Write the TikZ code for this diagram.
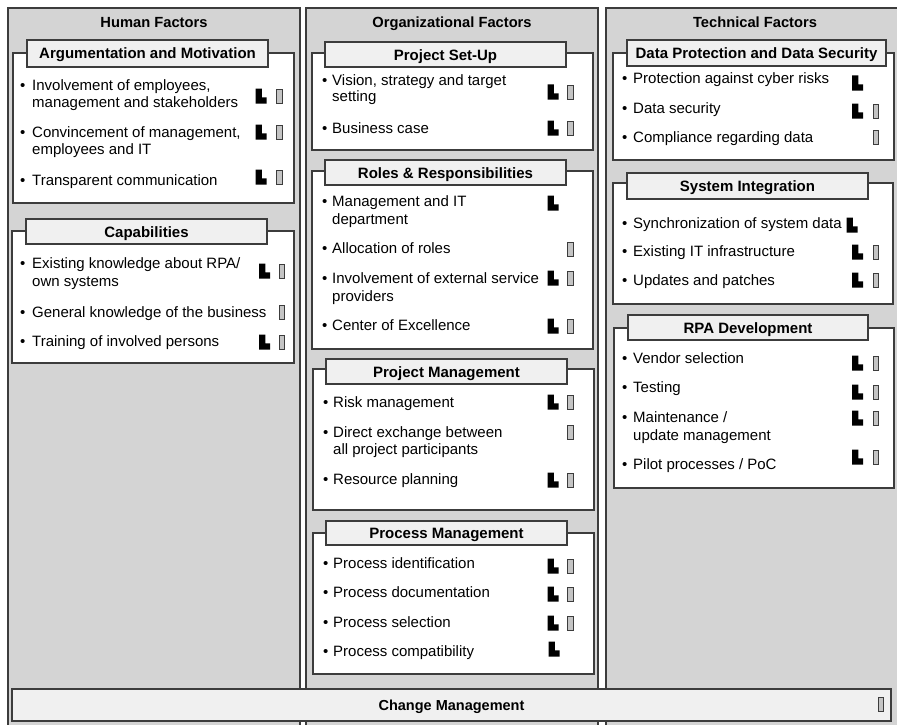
\documentclass[tikz,border=0pt]{standalone}
\usepackage{fontspec}
\setmainfont{Liberation Sans}
\definecolor{colfill}{HTML}{D4D4D4}
\definecolor{tabfill}{HTML}{F0F0F0}
\definecolor{edge}{HTML}{3C3C3C}
\definecolor{barfill}{HTML}{C4C4C4}
\tikzset{
 col/.style={fill=colfill, draw=edge, line width=1.4pt},
 sec/.style={fill=white, draw=edge, line width=1.1pt},
 tabst/.style={fill=tabfill, draw=edge, line width=1.1pt, inner sep=0pt, font=\fontsize{15}{18}\selectfont\bfseries, text height=11pt, text depth=0pt},
 hdr/.style={font=\fontsize{14.7}{18}\selectfont\bfseries, anchor=base, inner sep=0pt},
 txt/.style={font=\fontsize{15}{17}\selectfont, anchor=base west, inner sep=0pt},
 licon/.pic={\fill[black] (-5.5,-7.5) -- (0.8,-7.5) -- (0.8,1.3) -- (5.5,1.3) -- (5.5,7.5) -- (-5.5,7.5) -- cycle;},
 bicon/.pic={\draw[fill=barfill, draw=edge, line width=0.8pt] (-2.8,-7) rectangle (2.8,7);},
}
\begin{document}
\begin{tikzpicture}[x=1pt,y=-1pt]
\clip (0,0) rectangle (897,725);
\fill[white] (0,0) rectangle (897,725);
% columns
\draw[col] (8,8) rectangle (300,740);
\draw[col] (306,8) rectangle (598,740);
\draw[col] (606,8) rectangle (910,740);
\node[hdr] (h1) at (154,28) {Human Factors};
\node[hdr] (h2) at (452,28) {Organizational Factors};
\node[hdr] (h3) at (755,28) {Technical Factors};

% ===== Left column =====
\draw[sec] (13,53) rectangle (294,203);
\node[tabst, minimum width=241pt, minimum height=27pt] (tA) at (147.5,53.5) {Argumentation and Motivation};
\node[txt] (a1b) at (20,90) {•};
\node[txt] (a1) at (32,90) {Involvement of employees,};
\node[txt] (a1c) at (32,107) {management and stakeholders};
\pic at (261,96) {licon}; \pic at (279.5,96) {bicon};
\node[txt] (a2b) at (20,137) {•};
\node[txt] (a2) at (32,137) {Convincement of management,};
\node[txt] (a2c) at (32,154) {employees and IT};
\pic at (261,132) {licon}; \pic at (279.5,132) {bicon};
\node[txt] (a3b) at (20,185) {•};
\node[txt] (a3) at (32,185) {Transparent communication};
\pic at (261,177) {licon}; \pic at (279.5,177) {bicon};

\draw[sec] (12,231) rectangle (294,363);
\node[tabst, minimum width=241pt, minimum height=25pt] (tB) at (146.5,231.5) {Capabilities};
\node[txt] (c1b) at (20,268) {•};
\node[txt] (c1) at (32,268) {Existing knowledge about RPA/};
\node[txt] (c1c) at (32,286) {own systems};
\pic at (264.5,271) {licon}; \pic at (282,271) {bicon};
\node[txt] (c2b) at (20,317) {•};
\node[txt] (c2) at (32,317) {General knowledge of the business};
\pic at (282,312) {bicon};
\node[txt] (c3b) at (20,346) {•};
\node[txt] (c3) at (32,346) {Training of involved persons};
\pic at (264.5,342) {licon}; \pic at (282,342) {bicon};

% ===== Middle column =====
\draw[sec] (312,53) rectangle (593,150);
\node[tabst, minimum width=241pt, minimum height=25pt] (tC) at (445.5,54.5) {Project Set-Up};
\node[txt] (p1b) at (322,85) {•};
\node[txt] (p1) at (332,85) {Vision, strategy and target};
\node[txt] (p1c) at (332,102) {setting};
\pic at (553,92) {licon}; \pic at (570.5,92) {bicon};
\node[txt] (p2b) at (322,133) {•};
\node[txt] (p2) at (332,133) {Business case};
\pic at (553,128) {licon}; \pic at (570.5,128) {bicon};

\draw[sec] (312,171) rectangle (593,349);
\node[tabst, minimum width=241pt, minimum height=25pt] (tD) at (445.5,172.5) {Roles \& Responsibilities};
\node[txt] (r1b) at (322,206) {•};
\node[txt] (r1) at (332,206) {Management and IT};
\node[txt] (r1c) at (332,224) {department};
\pic at (553,203) {licon};
\node[txt] (r2b) at (322,253) {•};
\node[txt] (r2) at (332,253) {Allocation of roles};
\pic at (570.5,249) {bicon};
\node[txt] (r3b) at (322,283) {•};
\node[txt] (r3) at (332,283) {Involvement of external service};
\node[txt] (r3c) at (332,301) {providers};
\pic at (553,278) {licon}; \pic at (570.5,278) {bicon};
\node[txt] (r4b) at (322,330) {•};
\node[txt] (r4) at (332,330) {Center of Excellence};
\pic at (553,326) {licon}; \pic at (570.5,326) {bicon};

\draw[sec] (313,369) rectangle (594,510);
\node[tabst, minimum width=241pt, minimum height=25pt] (tE) at (446.5,371.5) {Project Management};
\node[txt] (m1b) at (323,407) {•};
\node[txt] (m1) at (333,407) {Risk management};
\pic at (553,402) {licon}; \pic at (570.5,402) {bicon};
\node[txt] (m2b) at (323,437) {•};
\node[txt] (m2) at (333,437) {Direct exchange between};
\node[txt] (m2c) at (333,454) {all project participants};
\pic at (570.5,432) {bicon};
\node[txt] (m3b) at (323,484) {•};
\node[txt] (m3) at (333,484) {Resource planning};
\pic at (553,480) {licon}; \pic at (570.5,480) {bicon};

\draw[sec] (313,533) rectangle (594,674);
\node[tabst, minimum width=241pt, minimum height=24pt] (tF) at (446.5,533) {Process Management};
\node[txt] (q1b) at (323,568) {•};
\node[txt] (q1) at (333,568) {Process identification};
\pic at (553,566) {licon}; \pic at (570.5,566) {bicon};
\node[txt] (q2b) at (323,597) {•};
\node[txt] (q2) at (333,597) {Process documentation};
\pic at (553,594) {licon}; \pic at (570.5,594) {bicon};
\node[txt] (q3b) at (323,627) {•};
\node[txt] (q3) at (333,627) {Process selection};
\pic at (553,623) {licon}; \pic at (570.5,623) {bicon};
\node[txt] (q4b) at (323,656) {•};
\node[txt] (q4) at (333,656) {Process compatibility};
\pic at (554,649) {licon};

% ===== Right column =====
\draw[sec] (613,53) rectangle (894,160);
\node[tabst, minimum width=259pt, minimum height=26pt] (tG) at (756.5,53) {Data Protection and Data Security};
\node[txt] (d1b) at (622,84) {•};
\node[txt] (d1) at (633,84) {Protection against cyber risks};
\pic at (857.5,83) {licon};
\node[txt] (d2b) at (622,113) {•};
\node[txt] (d2) at (633,113) {Data security};
\pic at (857.5,111) {licon}; \pic at (876,111) {bicon};
\node[txt] (d3b) at (622,142) {•};
\node[txt] (d3) at (633,142) {Compliance regarding data};
\pic at (876,137) {bicon};

\draw[sec] (613,183) rectangle (893,304);
\node[tabst, minimum width=241pt, minimum height=26pt] (tH) at (747.5,186) {System Integration};
\node[txt] (s1b) at (622,228) {•};
\node[txt] (s1) at (633,228) {Synchronization of system data};
\pic at (852,225) {licon};
\node[txt] (s2b) at (622,256) {•};
\node[txt] (s2) at (633,256) {Existing IT infrastructure};
\pic at (857.5,252) {licon}; \pic at (876,252) {bicon};
\node[txt] (s3b) at (622,285) {•};
\node[txt] (s3) at (633,285) {Updates and patches};
\pic at (857.5,280) {licon}; \pic at (876,280) {bicon};

\draw[sec] (614,328) rectangle (894,488);
\node[tabst, minimum width=240pt, minimum height=25pt] (tI) at (748,327.5) {RPA Development};
\node[txt] (v1b) at (622,363) {•};
\node[txt] (v1) at (633,363) {Vendor selection};
\pic at (857.5,363) {licon}; \pic at (876,363) {bicon};
\node[txt] (v2b) at (622,392) {•};
\node[txt] (v2) at (633,392) {Testing};
\pic at (857.5,392) {licon}; \pic at (876,392) {bicon};
\node[txt] (v3b) at (622,422) {•};
\node[txt] (v3) at (633,422) {Maintenance /};
\node[txt] (v3c) at (633,440) {update management};
\pic at (857.5,418) {licon}; \pic at (876,418) {bicon};
\node[txt] (v4b) at (622,469) {•};
\node[txt] (v4) at (633,469) {Pilot processes / PoC};
\pic at (857.5,457) {licon}; \pic at (876,457) {bicon};

% ===== Change Management =====
\node[tabst, minimum width=879pt, minimum height=32pt, font=\fontsize{14.5}{18}\selectfont\bfseries] (cm) at (451.5,705) {Change Management};
\pic at (881,704) {bicon};
\end{tikzpicture}
\end{document}
